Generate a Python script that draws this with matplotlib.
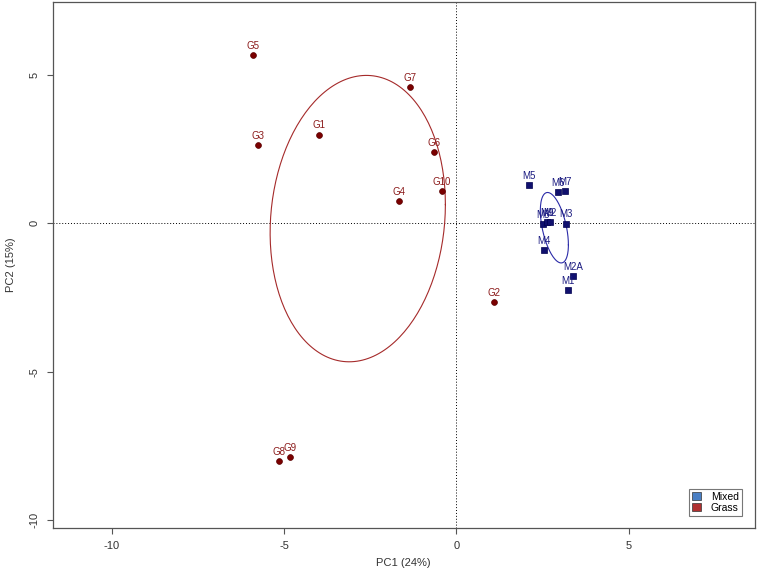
import numpy as np
import matplotlib.pyplot as plt
from matplotlib.patches import Patch

plt.rcParams['font.family'] = ['Liberation Sans', 'DejaVu Sans']

# PCA scores
grass_labels = ["G5", "G7", "G1", "G3", "G6", "G10", "G4", "G2", "G8", "G9"]
grass_pc1 = [-5.91, -1.35, -3.99, -5.76, -0.65, -0.42, -1.67, 1.09, -5.15, -4.83]
grass_pc2 = [5.67, 4.59, 2.99, 2.64, 2.40, 1.09, 0.75, -2.65, -8.01, -7.88]

mixed_labels = ["M5", "M6", "M7", "M8", "M9", "M2", "M3", "M4", "M2A", "M1"]
mixed_pc1 = [2.11, 2.95, 3.15, 2.51, 2.64, 2.72, 3.19, 2.53, 3.39, 3.25]
mixed_pc2 = [1.28, 1.04, 1.08, -0.03, 0.05, 0.03, -0.01, -0.89, -1.78, -2.25]


def sd_ellipse(x, y, n=200):
    # 1-SD ellipse around the group mean
    xy = np.vstack([x, y])
    mu = xy.mean(axis=1)
    L = np.linalg.cholesky(np.cov(xy))
    t = np.linspace(0, 2 * np.pi, n)
    pts = L @ np.vstack([np.cos(t), np.sin(t)])
    return mu[0] + pts[0], mu[1] + pts[1]


fig = plt.figure(figsize=(7.58, 5.77), dpi=100)
ax = fig.add_axes([52.7 / 758, 1 - 528 / 577, (754.7 - 52.7) / 758, (528 - 2) / 577])

ax.axhline(0, color="black", ls=(0, (1, 2)), lw=0.7, zorder=1)
ax.axvline(0, color="black", ls=(0, (1, 2)), lw=0.7, zorder=1)

ex, ey = sd_ellipse(grass_pc1, grass_pc2)
ax.plot(ex, ey, color="#a52a2a", lw=0.8)
ex, ey = sd_ellipse(mixed_pc1, mixed_pc2)
ax.plot(ex, ey, color="#2b2ba8", lw=0.8)

ax.plot(grass_pc1, grass_pc2, "o", color="#7a0000", ms=4.2, mec="#5a0000", mew=0.5)
ax.plot(mixed_pc1, mixed_pc2, "s", color="#10106e", ms=4.0, mec="#000050", mew=0.5)

for lab, x, y in zip(grass_labels, grass_pc1, grass_pc2):
    ax.annotate(lab, (x, y), xytext=(0, 3), textcoords="offset points",
                ha="center", va="bottom", fontsize=7, color="#8b1a1a")
for lab, x, y in zip(mixed_labels, mixed_pc1, mixed_pc2):
    ax.annotate(lab, (x, y), xytext=(0, 3), textcoords="offset points",
                ha="center", va="bottom", fontsize=7, color="#1a1a80")

ax.set_xlim(-11.72, 8.66)
ax.set_ylim(-10.27, 7.46)
ax.set_xticks([-10, -5, 0, 5])
ax.set_yticks([-10, -5, 0, 5])
ax.set_xticklabels(["-10", "-5", "0", "5"])
ax.set_yticklabels(["-10", "-5", "0", "5"], rotation=90, va="center")
ax.tick_params(direction="out", length=4.5, width=0.8, color="#555555",
               labelsize=8, labelcolor="#333333", pad=5)
for s in ax.spines.values():
    s.set_color("#555555")
    s.set_linewidth(0.9)

ax.set_xlabel("PC1 (24%)", fontsize=8, color="#333333", labelpad=5)
ax.set_ylabel("PC2 (15%)", fontsize=8, color="#333333", labelpad=10)

handles = [Patch(facecolor="#4a7fc4", edgecolor="#333333", lw=0.5),
           Patch(facecolor="#b03030", edgecolor="#333333", lw=0.5)]
leg = ax.legend(handles, ["Mixed", "Grass"], loc="lower right", fontsize=7.5,
                frameon=True, fancybox=False, edgecolor="#555555",
                handlelength=0.8, handleheight=0.7, borderpad=0.3,
                labelspacing=0.1, handletextpad=1.0, borderaxespad=0,
                bbox_to_anchor=(0.982, 0.023))
leg.get_frame().set_linewidth(0.8)

fig.savefig("out.png", dpi=100)
